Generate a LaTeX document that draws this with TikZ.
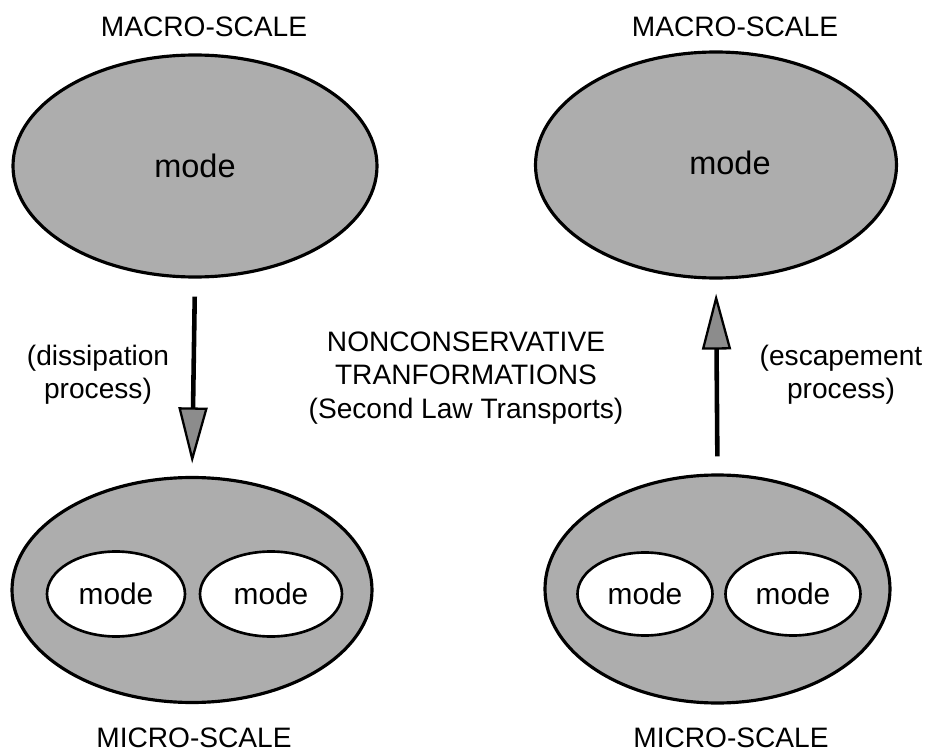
\documentclass[tikz,border=0pt]{standalone}
\usepackage{fontspec}
\setmainfont{Liberation Sans}
\usetikzlibrary{
    shapes.geometric,
    arrows.meta,
    positioning
}
\tikzset{
    bigblob/.style={ellipse, draw, line width=1.8pt, fill=black!32, inner sep=0pt, font=\fontsize{18.5}{22}\selectfont},
    smallblob/.style={ellipse, draw, line width=1.5pt, fill=white, inner sep=0pt, font=\fontsize{17}{20}\selectfont},
    flow/.style={line width=2.6pt, -{Triangle[length=1.12cm, width=0.58cm, fill=black!45, line width'=1.3pt]}},
    lbl/.style={font=\fontsize{16}{19}\selectfont, align=center}
}

\begin{document}
\begin{tikzpicture}
                        \useasboundingbox (0, 0) rectangle (18.52, -15.1);

                        % macro-scale
                        \node[bigblob, minimum width=7.28cm, minimum height=4.44cm] (topL) at (3.90, -3.32) {mode};
                        \node[bigblob, minimum width=7.22cm, minimum height=4.52cm] (topR) at (14.32, -3.30) {};
                        \node (topRtxt) at (14.60, -3.26) {\fontsize{18.5}{22}\selectfont mode};
                        \node[lbl] (macroL) at (4.08, -0.54) {MACRO-SCALE};
                        \node[lbl] (macroR) at (14.70, -0.54) {MACRO-SCALE};

                        % micro-scale
                        \node[bigblob, minimum width=7.20cm, minimum height=4.50cm] (botL) at (3.84, -11.80) {};
                        \node[bigblob, minimum width=6.90cm, minimum height=4.56cm] (botR) at (14.35, -11.78) {};
                        \node[smallblob, minimum width=2.76cm, minimum height=1.70cm] (botLa) at (2.32, -11.88) {mode};
                        \node[smallblob, minimum width=2.84cm, minimum height=1.70cm] (botLb) at (5.42, -11.88) {mode};
                        \node[smallblob, minimum width=2.70cm, minimum height=1.66cm] (botRa) at (12.90, -11.88) {mode};
                        \node[smallblob, minimum width=2.70cm, minimum height=1.66cm] (botRb) at (15.86, -11.88) {mode};
                        \node[lbl] (microL) at (3.88, -14.76) {MICRO-SCALE};
                        \node[lbl] (microR) at (14.62, -14.76) {MICRO-SCALE};

                        % processes
                        \node[lbl] (diss) at (1.96, -7.50) {(dissipation\\process)};
                        \node[lbl] (esc) at (16.82, -7.50) {(escapement\\process)};
                        \node[lbl] (trans) at (9.32, -7.56) {NONCONSERVATIVE\\TRANFORMATIONS\\(Second Law Transports)};

                        \draw
                        (topL.south) edge[flow, shorten <=0.36cm, shorten >=0.25cm] (botL.north)
                        (botR.north) edge[flow, shorten <=0.34cm, shorten >=0.28cm] (topR.south);
                    \end{tikzpicture}
\end{document}
